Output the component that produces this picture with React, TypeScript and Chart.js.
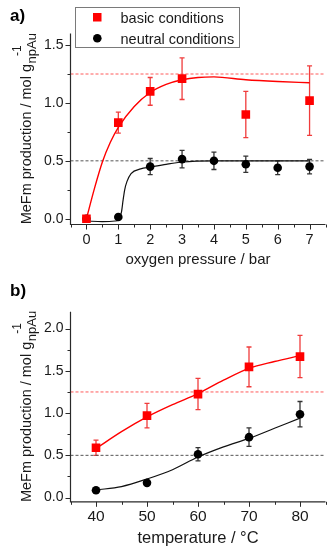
import React, { useEffect, useRef } from 'react';
import { Chart, registerables } from 'chart.js';
Chart.register(...registerables);

const FONT = "'Liberation Sans', Arial, Helvetica, sans-serif";

// ---------- Panel a: oxygen pressure ----------
const pressureBasic = [0, 1, 2, 3, 5, 7];
const basicA = [0.0, 0.83, 1.10, 1.21, 0.90, 1.02];
const basicAErr = [0, 0.09, 0.12, 0.18, 0.2, 0.3];
const pressureNeutral = [0, 1, 2, 3, 4, 5, 6, 7];
const neutralA = [0.0, 0.015, 0.45, 0.515, 0.5, 0.47, 0.44, 0.45];
const neutralAErr = [0, 0, 0.07, 0.075, 0.075, 0.07, 0.06, 0.063];
const basicFitAX = [0, 0.25, 0.5, 0.75, 1, 1.5, 2, 2.5, 3, 3.5, 4, 5, 6, 7];
const basicFitAY = [0, 0.26, 0.49, 0.66, 0.79, 0.97, 1.09, 1.16, 1.2, 1.22, 1.225, 1.2, 1.185, 1.175];
const neutralFitAX = [0, 0.5, 0.9, 1.0, 1.05, 1.1, 1.15, 1.2, 1.27, 1.4, 1.7, 2, 2.5, 3, 4, 5, 6, 7];
const neutralFitAY = [-0.02, -0.025, -0.02, -0.01, 0.02, 0.06, 0.16, 0.25, 0.32, 0.39, 0.43, 0.445, 0.47, 0.49, 0.5, 0.5, 0.5, 0.5];
const xTicksA = [0, 1, 2, 3, 4, 5, 6, 7];
const xMinorA = [-0.5, 0.5, 1.5, 2.5, 3.5, 4.5, 5.5, 6.5, 7.5];
const yTicksA = [0, 0.5, 1.0, 1.5];
const yMinorA = [0.25, 0.75, 1.25];

// ---------- Panel b: temperature ----------
const tempPoints = [40, 50, 60, 70, 80];
const basicB = [0.59, 0.97, 1.225, 1.547, 1.669];
const basicBErr = [0.09, 0.145, 0.185, 0.235, 0.25];
const neutralB = [0.087, 0.174, 0.513, 0.715, 0.987];
const neutralBErr = [0, 0, 0.078, 0.11, 0.15];
const tempFit = [40, 45, 50, 55, 60, 65, 70, 75, 80];
const basicFitB = [0.58, 0.78, 0.955, 1.1, 1.23, 1.39, 1.53, 1.61, 1.68];
const neutralFitB = [0.09, 0.13, 0.22, 0.33, 0.48, 0.6, 0.7, 0.82, 0.94];
const xTicksB = [40, 50, 60, 70, 80];
const xMinorB = [35, 45, 55, 65, 75, 85];
const yTicksB = [0, 0.5, 1.0, 1.5, 2.0];
const yMinorB = [0.25, 0.75, 1.25, 1.75];

const refBasic = 1.25;
const refNeutral = 0.5;

type Cfg = {
  height: number;
  area: { left: number; right: number; top: number; bottom: number };
  xMin: number; xMax: number; yMin: number; yMax: number;
  xTicks: number[]; xMinor: number[]; yTicks: number[]; yMinor: number[];
  bX: number[]; bY: number[]; bE: number[];
  nX: number[]; nY: number[]; nE: number[];
  bFX: number[]; bFY: number[]; nFX: number[]; nFY: number[];
  xTitle: string; label: string; legend: boolean;
  xTitleY: number; labelY: number; yTitleX: number;
  xTickSize: number; xTitleSize: number; xTickPad: number;
};

const cfgA: Cfg = {
  height: 270,
  area: { left: 70.5, right: 325.5, top: 33.5, bottom: 224.5 },
  xMin: -0.5, xMax: 7.5, yMin: -0.05, yMax: 1.6,
  xTicks: xTicksA, xMinor: xMinorA, yTicks: yTicksA, yMinor: yMinorA,
  bX: pressureBasic, bY: basicA, bE: basicAErr,
  nX: pressureNeutral, nY: neutralA, nE: neutralAErr,
  bFX: basicFitAX, bFY: basicFitAY, nFX: neutralFitAX, nFY: neutralFitAY,
  xTitle: 'oxygen pressure / bar', label: 'a)', legend: true,
  xTitleY: 264, labelY: 16, yTitleX: 31,
  xTickSize: 14.5, xTitleSize: 15, xTickPad: 7,
};

const cfgB: Cfg = {
  height: 280,
  area: { left: 70.5, right: 325.5, top: 41.7, bottom: 231.8 },
  xMin: 35, xMax: 85, yMin: -0.05, yMax: 2.2,
  xTicks: xTicksB, xMinor: xMinorB, yTicks: yTicksB, yMinor: yMinorB,
  bX: tempPoints, bY: basicB, bE: basicBErr,
  nX: tempPoints, nY: neutralB, nE: neutralBErr,
  bFX: tempFit, bFY: basicFitB, nFX: tempFit, nFY: neutralFitB,
  xTitle: 'temperature / °C', label: 'b)', legend: false,
  xTitleY: 273, labelY: 21, yTitleX: 31,
  xTickSize: 15.5, xTitleSize: 16.5, xTickPad: 6,
};

const RED = '#ff0000';
const RED_ERR = '#f03c3c';
const AXIS = '#2a2a2a';

function Panel({ cfg }: { cfg: Cfg }) {
  const ref = useRef<HTMLCanvasElement>(null);
  useEffect(() => {
    const canvas = ref.current!;
    const W = 332;
    const pts = (xs: number[], ys: number[]) => xs.map((x, i) => ({ x, y: ys[i] }));

    const decor = {
      id: 'decor',
      beforeDatasetsDraw(chart: any) {
        const ctx = chart.ctx;
        const xs = chart.scales.x, ys = chart.scales.y;
        const drawErr = (X: number[], Y: number[], E: number[], color: string) => {
          ctx.save();
          ctx.strokeStyle = color;
          ctx.lineWidth = 1.3;
          X.forEach((x, i) => {
            if (!E[i]) return;
            const px = xs.getPixelForValue(x);
            const t = ys.getPixelForValue(Y[i] + E[i]);
            const b = ys.getPixelForValue(Y[i] - E[i]);
            ctx.beginPath();
            ctx.moveTo(px, t); ctx.lineTo(px, b);
            ctx.moveTo(px - 2.5, t); ctx.lineTo(px + 2.5, t);
            ctx.moveTo(px - 2.5, b); ctx.lineTo(px + 2.5, b);
            ctx.stroke();
          });
          ctx.restore();
        };
        drawErr(cfg.nX, cfg.nY, cfg.nE, '#333333');
        drawErr(cfg.bX, cfg.bY, cfg.bE, RED_ERR);
      },
      afterDraw(chart: any) {
        const ctx = chart.ctx;
        const a = chart.chartArea;
        const xs = chart.scales.x, ys = chart.scales.y;
        ctx.save();
        // axes
        ctx.strokeStyle = AXIS;
        ctx.lineWidth = 1.2;
        ctx.beginPath();
        ctx.moveTo(a.left, a.top); ctx.lineTo(a.left, a.bottom); ctx.lineTo(a.right, a.bottom);
        ctx.stroke();
        ctx.lineWidth = 1;
        ctx.beginPath();
        cfg.xTicks.forEach(v => { const p = Math.round(xs.getPixelForValue(v)) + 0.5; ctx.moveTo(p, a.bottom); ctx.lineTo(p, a.bottom + 5); });
        cfg.xMinor.forEach(v => { const p = Math.round(xs.getPixelForValue(v)) + 0.5; ctx.moveTo(p, a.bottom); ctx.lineTo(p, a.bottom + 3); });
        cfg.yTicks.forEach(v => { const p = Math.round(ys.getPixelForValue(v)) + 0.5; ctx.moveTo(a.left, p); ctx.lineTo(a.left - 5, p); });
        cfg.yMinor.forEach(v => { const p = Math.round(ys.getPixelForValue(v)) + 0.5; ctx.moveTo(a.left, p); ctx.lineTo(a.left - 3, p); });
        ctx.stroke();

        // x title
        ctx.fillStyle = '#1a1a1a';
        ctx.font = `${cfg.xTitleSize}px ${FONT}`;
        ctx.textAlign = 'center';
        ctx.textBaseline = 'alphabetic';
        ctx.fillText(cfg.xTitle, (a.left + a.right) / 2, cfg.xTitleY);

        // y title with subscript and superscript
        const main = 'MeFm production / mol g';
        const sub = 'npAu';
        const sup = '-1';
        ctx.font = `14.5px ${FONT}`;
        const mw = ctx.measureText(main).width;
        ctx.font = `13px ${FONT}`;
        const sw = ctx.measureText(sub).width;
        const total = mw + sw;
        ctx.translate(cfg.yTitleX, (a.top + a.bottom) / 2);
        ctx.rotate(-Math.PI / 2);
        ctx.textAlign = 'left';
        ctx.font = `14.5px ${FONT}`;
        ctx.fillText(main, -total / 2, 0);
        ctx.font = `13px ${FONT}`;
        ctx.fillText(sub, -total / 2 + mw + 0.5, 5);
        ctx.font = `12px ${FONT}`;
        ctx.fillText(sup, -total / 2 + mw + 8, -10);
        ctx.setTransform(1, 0, 0, 1, 0, 0);

        // panel label
        ctx.font = `bold 17px ${FONT}`;
        ctx.textAlign = 'left';
        ctx.textBaseline = 'middle';
        ctx.fillStyle = '#000';
        ctx.fillText(cfg.label, 10, cfg.labelY);

        // legend
        if (cfg.legend) {
          ctx.fillStyle = '#fff';
          ctx.fillRect(75.5, 7.5, 164, 40);
          ctx.strokeStyle = '#7a7a7a';
          ctx.lineWidth = 1;
          ctx.strokeRect(75.5, 7.5, 164, 40);
          ctx.fillStyle = RED;
          ctx.fillRect(93, 13, 8.5, 8.5);
          ctx.fillStyle = '#000';
          ctx.beginPath();
          ctx.arc(97.3, 38.3, 4.3, 0, Math.PI * 2);
          ctx.fill();
          ctx.font = `14.5px ${FONT}`;
          ctx.fillStyle = '#1a1a1a';
          ctx.textBaseline = 'middle';
          ctx.fillText(chart.data.datasets[0].label, 120.5, 19);
          ctx.fillText(chart.data.datasets[1].label, 120.5, 39.5);
        }
        ctx.restore();
      },
    };

    const chart = new Chart(canvas, {
      type: 'line',
      data: {
        datasets: [
          {
            label: 'basic conditions',
            data: pts(cfg.bX, cfg.bY),
            showLine: false,
            pointStyle: 'rect',
            pointRadius: 6.1,
            pointBorderWidth: 0,
            pointBackgroundColor: RED,
            borderColor: RED,
            backgroundColor: RED,
          },
          {
            label: 'neutral conditions',
            data: pts(cfg.nX, cfg.nY),
            showLine: false,
            pointStyle: 'circle',
            pointRadius: 4.3,
            pointBorderWidth: 0,
            pointBackgroundColor: '#000',
            borderColor: '#000',
            backgroundColor: '#000',
          },
          {
            label: 'basic fit',
            data: pts(cfg.bFX, cfg.bFY),
            borderColor: RED,
            borderWidth: 1.4,
            pointRadius: 0,
            cubicInterpolationMode: 'monotone',
            fill: false,
          },
          {
            label: 'neutral fit',
            data: pts(cfg.nFX, cfg.nFY),
            borderColor: '#111',
            borderWidth: 1.2,
            pointRadius: 0,
            cubicInterpolationMode: 'monotone',
            fill: false,
          },
          {
            label: 'basic ref',
            data: [{ x: cfg.xMin, y: refBasic }, { x: cfg.xMax, y: refBasic }],
            borderColor: '#ff5a5a',
            borderWidth: 1,
            borderDash: [3, 2],
            pointRadius: 0,
            fill: false,
          },
          {
            label: 'neutral ref',
            data: [{ x: cfg.xMin, y: refNeutral }, { x: cfg.xMax, y: refNeutral }],
            borderColor: '#555',
            borderWidth: 1,
            borderDash: [3, 2],
            pointRadius: 0,
            fill: false,
          },
        ],
      },
      options: {
        animation: false,
        responsive: false,
        devicePixelRatio: 1,
        layout: { padding: { top: cfg.area.top, right: W - cfg.area.right, left: 0, bottom: 0 } },
        plugins: { legend: { display: false }, tooltip: { enabled: false } },
        events: [],
        scales: {
          x: {
            type: 'linear',
            min: cfg.xMin,
            max: cfg.xMax,
            afterFit: (s: any) => { s.height = cfg.height - cfg.area.bottom; },
            afterBuildTicks: (s: any) => { s.ticks = cfg.xTicks.map(v => ({ value: v })); },
            grid: { display: false, drawTicks: false },
            border: { display: false },
            ticks: { font: { family: FONT, size: cfg.xTickSize }, color: '#1a1a1a', padding: cfg.xTickPad, maxRotation: 0, autoSkip: false },
          },
          y: {
            type: 'linear',
            min: cfg.yMin,
            max: cfg.yMax,
            afterFit: (s: any) => { s.width = cfg.area.left; },
            afterBuildTicks: (s: any) => { s.ticks = cfg.yTicks.map(v => ({ value: v })); },
            grid: { display: false, drawTicks: false },
            border: { display: false },
            ticks: {
              font: { family: FONT, size: 14 }, color: '#1a1a1a', padding: 7, autoSkip: false,
              callback: (v: any) => Number(v).toFixed(1),
            },
          },
        },
      } as any,
      plugins: [decor],
    });
    return () => chart.destroy();
  }, [cfg]);
  return <canvas ref={ref} width={332} height={cfg.height} style={{ display: 'block', width: 332, height: cfg.height }} />;
}

export default function App() {
  return (
    <div style={{ position: 'absolute', left: 0, top: 0, width: 332, height: 550, background: '#fff' }}>
      <Panel cfg={cfgA} />
      <Panel cfg={cfgB} />
    </div>
  );
}
